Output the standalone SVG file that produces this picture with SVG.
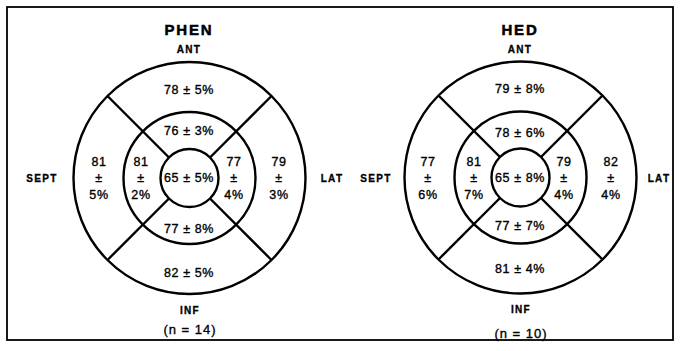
<svg xmlns="http://www.w3.org/2000/svg" width="680" height="351" viewBox="0 0 680 351">
<style>
.ring{fill:none;stroke:#000;stroke-width:2.4}
.div{stroke:#000;stroke-width:2.4;stroke-linecap:butt}
.t{font-family:"Liberation Sans",Arial,sans-serif;font-size:12.5px;letter-spacing:0.6px;text-anchor:middle;fill:#000;stroke:#000;stroke-width:0.35}
.lb{font-family:"Liberation Sans",Arial,sans-serif;font-size:10px;font-weight:bold;letter-spacing:1.3px;text-anchor:middle;fill:#000;stroke:#000;stroke-width:0.3}
.ti{font-family:"Liberation Sans",Arial,sans-serif;font-size:15px;font-weight:bold;letter-spacing:1.8px;text-anchor:middle;fill:#000;stroke:#000;stroke-width:0.5}
.n{font-family:"Liberation Sans",Arial,sans-serif;font-size:13px;letter-spacing:1px;text-anchor:middle;fill:#000;stroke:#000;stroke-width:0.35}
</style>
<rect width="680" height="351" fill="#fff"/>
<rect x="7" y="7" width="666" height="333" fill="none" stroke="#000" stroke-width="1.8"/>

<g id="phen">
  <circle class="ring" cx="189.5" cy="178" r="116"/>
  <circle class="ring" cx="189.5" cy="178" r="66"/>
  <circle class="ring" cx="189.5" cy="178" r="29"/>
  <g id="phen-dividers">
    <line class="div" x1="169" y1="157.5" x2="107.5" y2="96"/>
    <line class="div" x1="210" y1="157.5" x2="271.5" y2="96"/>
    <line class="div" x1="169" y1="198.5" x2="107.5" y2="260"/>
    <line class="div" x1="210" y1="198.5" x2="271.5" y2="260"/>
  </g>
  <text class="ti" x="189" y="35">PHEN</text>
  <text class="lb" x="189" y="53">ANT</text>
  <text class="t" x="189" y="94">78 ± 5%</text>
  <text class="t" x="189" y="135">76 ± 3%</text>
  <text class="t" x="99" y="166">81</text><text class="t" x="99" y="182">±</text><text class="t" x="99" y="199">5%</text>
  <text class="t" x="141" y="166">81</text><text class="t" x="141" y="182">±</text><text class="t" x="141" y="199">2%</text>
  <text class="t" x="189" y="182">65 ± 5%</text>
  <text class="t" x="234" y="166">77</text><text class="t" x="234" y="182">±</text><text class="t" x="234" y="199">4%</text>
  <text class="t" x="279" y="166">79</text><text class="t" x="279" y="182">±</text><text class="t" x="279" y="199">3%</text>
  <text class="t" x="189" y="233">77 ± 8%</text>
  <text class="t" x="189" y="277">82 ± 5%</text>
  <text class="lb" x="190" y="314">INF</text>
  <text class="n" x="190" y="334">(n = 14)</text>
  <text class="lb" x="42" y="182">SEPT</text>
  <text class="lb" x="332" y="182">LAT</text>
</g>

<g id="hed">
  <circle class="ring" cx="520.5" cy="177.5" r="116"/>
  <circle class="ring" cx="520.5" cy="177.5" r="66"/>
  <circle class="ring" cx="520.5" cy="177.5" r="29"/>
  <g id="hed-dividers">
    <line class="div" x1="500" y1="157" x2="438.5" y2="95.5"/>
    <line class="div" x1="541" y1="157" x2="602.5" y2="95.5"/>
    <line class="div" x1="500" y1="198" x2="438.5" y2="259.5"/>
    <line class="div" x1="541" y1="198" x2="602.5" y2="259.5"/>
  </g>
  <text class="ti" x="520" y="35">HED</text>
  <text class="lb" x="520" y="53">ANT</text>
  <text class="t" x="520" y="93">79 ± 8%</text>
  <text class="t" x="520" y="137">78 ± 6%</text>
  <text class="t" x="428" y="166">77</text><text class="t" x="428" y="182">±</text><text class="t" x="428" y="199">6%</text>
  <text class="t" x="474" y="166">81</text><text class="t" x="474" y="182">±</text><text class="t" x="474" y="199">7%</text>
  <text class="t" x="520" y="182">65 ± 8%</text>
  <text class="t" x="564" y="166">79</text><text class="t" x="564" y="182">±</text><text class="t" x="564" y="199">4%</text>
  <text class="t" x="611" y="166">82</text><text class="t" x="611" y="182">±</text><text class="t" x="611" y="199">4%</text>
  <text class="t" x="520" y="230">77 ± 7%</text>
  <text class="t" x="520" y="273">81 ± 4%</text>
  <text class="lb" x="521" y="313">INF</text>
  <text class="n" x="521" y="338">(n = 10)</text>
  <text class="lb" x="376" y="182">SEPT</text>
  <text class="lb" x="659" y="182">LAT</text>
</g>
</svg>
